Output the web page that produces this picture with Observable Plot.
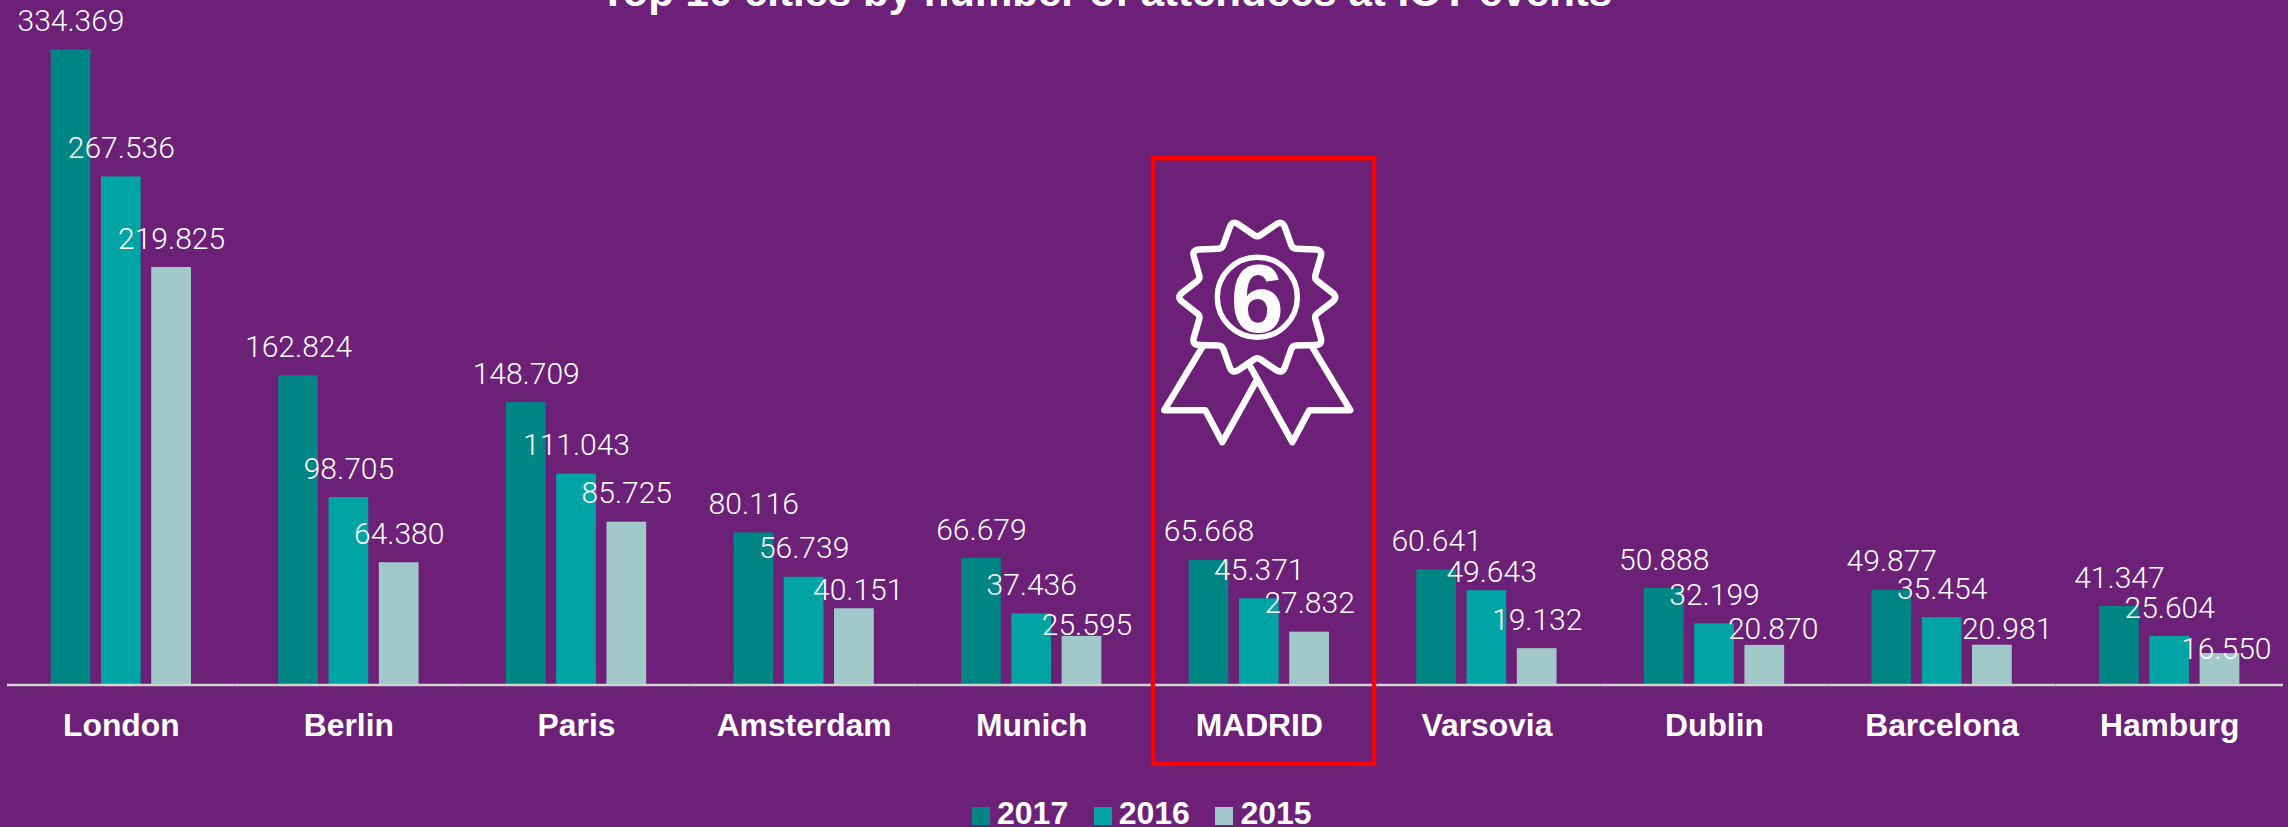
<!DOCTYPE html>
<html><head><meta charset="utf-8">
<script src="https://cdn.jsdelivr.net/npm/d3@7"></script>
<script src="https://cdn.jsdelivr.net/npm/@observablehq/plot@0.6"></script>
<style>
html,body{margin:0;padding:0;background:#6C2077;width:2288px;height:827px;overflow:hidden;position:relative}
#title{position:absolute;left:600px;top:-29.5px;color:#fff;font:bold 42px/42px "Liberation Sans",sans-serif;white-space:nowrap;margin:0}
#legend{position:absolute;left:972px;top:802px;display:flex;align-items:flex-end;color:#fff;font:bold 32px/23px "Liberation Sans",sans-serif}
#legend div{width:121.7px;display:flex;align-items:flex-end}
#legend span{display:inline-block;width:18px;height:18px;margin-right:7px}
svg{position:absolute;left:0;top:0;background:transparent}
</style></head><body>
<h1 id="title"></h1>
<div id="chart"></div>
<div id="legend"></div>
<script>
const titleText = "Top 10 cities by number of attendees at IOT events";
const cities = ["London","Berlin","Paris","Amsterdam","Munich","MADRID","Varsovia","Dublin","Barcelona","Hamburg"];
const years = ["2017","2016","2015"];
const colors = ["#008585","#00A4A4","#A2C9C9"];
const v2017 = [334369,162824,148709,80116,66679,65668,60641,50888,49877,41347];
const v2016 = [267536,98705,111043,56739,37436,45371,49643,32199,35454,25604];
const v2015 = [219825,64380,85725,40151,25595,27832,19132,20870,20981,16550];
const highlight = "MADRID";
const medalRank = "6";

const series = [v2017,v2016,v2015];
const rows = cities.flatMap((c,i)=>years.map((y,j)=>({city:c,year:y,value:series[j][i]})));
const fmt = v => d3.format(",")(v).replace(/,/g,".");

// hand-placed labels in the original: value -> [shift right, gap above bar], px
const labelNudges = new Map([[40151,[3.8,9]],[25595,[5,1.3]],[49643,[4.7,8.3]],[20870,[8.3,6]],[20981,[14.7,6]],[16550,[6.3,-5]]]);

const starPts = d3.range(20).map(k=>{const a=k*18*Math.PI/180,r=k%2?60:81;return [150+r*Math.cos(a),150+r*Math.sin(a)]});
const starPath = starPts.map((p,i)=>{
  const a=starPts[(i+19)%20], b=starPts[(i+1)%20], t=i%2?0.12:0.25;
  const s=[p[0]+(a[0]-p[0])*t,p[1]+(a[1]-p[1])*t], e=[p[0]+(b[0]-p[0])*t,p[1]+(b[1]-p[1])*t];
  return `${i?"L":"M"}${s[0].toFixed(1)} ${s[1].toFixed(1)} Q${p[0].toFixed(1)} ${p[1].toFixed(1)} ${e[0].toFixed(1)} ${e[1].toFixed(1)}`;
}).join(" ")+" Z";
const medal = `<svg xmlns="http://www.w3.org/2000/svg" width="300" height="350" viewBox="0 0 300 350"><g fill="none" stroke="#fff" stroke-width="6.5" stroke-linejoin="round" stroke-linecap="round"><path d="${starPath}"/><circle cx="150" cy="150" r="40" stroke-width="5.5"/><path d="M95 200 L57 263 L98 263 L115 295 L150 232 L141 216 M205 200 L243 263 L202 263 L185 295 L150 232"/></g><text x="150" y="185" text-anchor="middle" fill="#fff" font-family="Liberation Sans" font-weight="bold" font-size="96">${medalRank}</text></svg>`;
const medalSrc = "data:image/svg+xml;charset=utf-8," + encodeURIComponent(medal);

const labelOpts = {fx:"city",x:"year",y:"value",text:d=>fmt(d.value),fill:"#fff",lineAnchor:"bottom",fontFamily:"Roboto",fontWeight:300,fontSize:30};

const plot = Plot.plot({
  width:2288, height:827,
  marginLeft:7, marginRight:5, marginTop:0, marginBottom:0,
  style:{background:"transparent",overflow:"visible"},
  fx:{domain:cities,padding:0,axis:null,round:false},
  x:{domain:years,paddingInner:0.21,paddingOuter:0.8675,axis:null,round:false},
  y:{domain:[0,334369],range:[684.5,49.5],axis:null},
  color:{domain:years,range:colors},
  marks:[
    Plot.barY(rows,{fx:"city",x:"year",y:"value",fill:"year"}),
    Plot.ruleY([0],{stroke:"#D3D3D3",strokeWidth:2.5}),
    Plot.text(rows.filter(d=>!labelNudges.has(d.value)),{...labelOpts,dy:-18.8}),
    ...rows.filter(d=>labelNudges.has(d.value)).map(d=>{
      const [dx,gap]=labelNudges.get(d.value);
      return Plot.text([d],{...labelOpts,dx,dy:-gap});
    }),
    Plot.text(cities,{fx:d=>d,frameAnchor:"top",text:d=>d,fill:"#fff",dy:713,lineAnchor:"top",fontFamily:"Liberation Sans",fontWeight:"bold",fontSize:31.8}),
    Plot.image([highlight],{fx:d=>d,y:[191040],src:[medalSrc],width:300,height:350,dx:-2,preserveAspectRatio:"xMidYMid meet"}),
    Plot.rect([highlight],{fx:d=>d,y1:[-41760],y2:[277080],stroke:"#FF0000",strokeWidth:4.5,fill:"none",insetLeft:8,insetRight:-1.4})
  ]
});
document.getElementById("chart").append(plot);
document.getElementById("title").textContent = titleText;
document.getElementById("legend").innerHTML = years.map((y,i)=>`<div><span style="background:${colors[i]}"></span><b>${y}</b></div>`).join("");
</script></body></html>
